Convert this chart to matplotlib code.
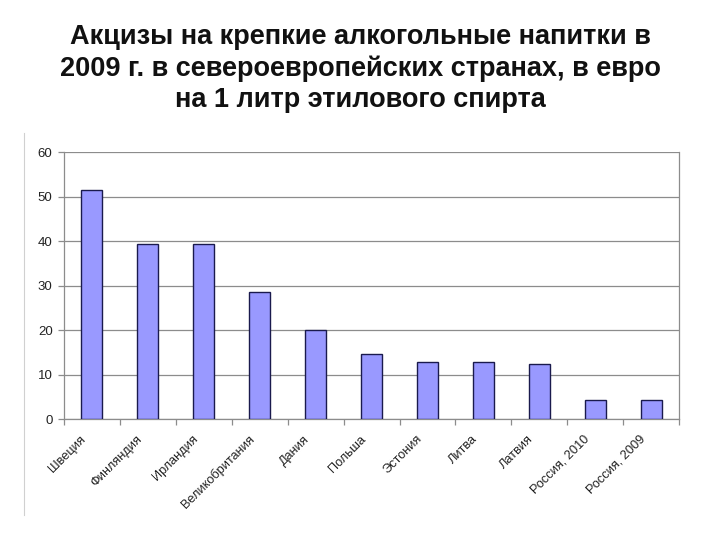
import matplotlib
matplotlib.use("Agg")
import matplotlib.pyplot as plt
import matplotlib.transforms as mtransforms
import numpy as np
from matplotlib.lines import Line2D

categories = ["Швеция", "Финляндия", "Ирландия", "Великобритания", "Дания",
              "Польша", "Эстония", "Литва", "Латвия", "Россия, 2010", "Россия, 2009"]
values = [51.6, 39.5, 39.3, 28.7, 20.1, 14.7, 12.9, 12.9, 12.4, 4.3, 4.3]
yticks = [0, 10, 20, 30, 40, 50, 60]
title = "Акцизы на крепкие алкогольные напитки в\n2009 г. в североевропейских странах, в евро\nна 1 литр этилового спирта"

plt.rcParams['font.family'] = ['Liberation Sans', 'DejaVu Sans']

fig = plt.figure(figsize=(7.2, 5.4), dpi=100)
ax = fig.add_axes([0.0885, 0.2235, 0.855, 0.4945])

x = np.arange(len(categories))
ax.bar(x, values, width=0.38, color="#9999FF", edgecolor="#1a1a4d", linewidth=1.0, zorder=3)

ax.set_xlim(-0.5, len(categories) - 0.5)
ax.set_ylim(0, 60)
ax.set_yticks(yticks)
ax.set_yticklabels([str(v) for v in yticks], fontsize=9.5, color="#222222")
ax.yaxis.grid(True, color="#8c8c8c", linewidth=0.9, zorder=0)
ax.set_axisbelow(True)

ax.set_xticks(x)
ax.set_xticklabels(categories, rotation=45, ha="right", rotation_mode="anchor", fontsize=9.2, color="#222222")
ax.tick_params(axis="x", length=0, pad=10)
offset = mtransforms.ScaledTranslation(-12 / 100, 0, fig.dpi_scale_trans)
for lab in ax.get_xticklabels():
    lab.set_transform(lab.get_transform() + offset)
ax.set_xticks(np.arange(-0.5, len(categories) + 0.5, 1.0), minor=True)
ax.tick_params(axis="x", which="minor", length=4, color="#8c8c8c", width=0.9)
ax.tick_params(axis="y", length=4, color="#8c8c8c", width=0.9, pad=4)

for side in ["left", "bottom", "right"]:
    ax.spines[side].set_color("#8c8c8c")
    ax.spines[side].set_linewidth(0.9)
ax.spines["top"].set_visible(False)

fig.text(0.5, 1 - 24 / 540, title, ha="center", va="top", fontsize=19.5, fontweight="bold",
         linespacing=1.25, color="#111111")

fig.add_artist(Line2D([24 / 720, 24 / 720], [1 - 133 / 540, 1 - 515 / 540],
                      transform=fig.transFigure, color="#d0d0d0", linewidth=0.8))

fig.savefig("out.png", dpi=100)
